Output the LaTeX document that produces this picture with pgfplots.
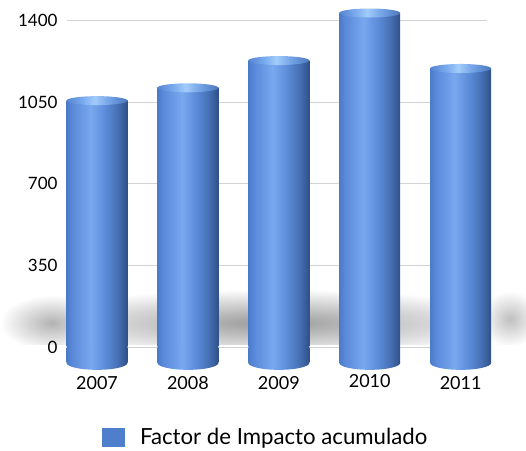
\documentclass[border=0pt]{standalone}
\usepackage{pgfplots}
\pgfplotsset{compat=1.18}
\usepackage{pgfplotstable}
\usepackage{fontspec}
\setmainfont{Lato}

\definecolor{legblue}{HTML}{4F7FCC}
\definecolor{gridgray}{HTML}{D2D2D2}
% cylinder body colours, left to right
\definecolor{cA}{HTML}{4B7BC8}
\definecolor{cB}{HTML}{5A8ADA}
\definecolor{cC}{HTML}{79A8EF}
\definecolor{cD}{HTML}{5B8BD8}
\definecolor{cE}{HTML}{4670B4}
\definecolor{cF}{HTML}{2F5088}
% lighter colours for the top faces
\definecolor{tA}{HTML}{5585D2}
\definecolor{tB}{HTML}{7AAAEE}
\definecolor{tC}{HTML}{A2CCFA}
\definecolor{tD}{HTML}{73A2E6}
\definecolor{tE}{HTML}{4C78BE}

\pgfdeclarehorizontalshading{cylbody}{100bp}{color(0bp)=(cA); color(25bp)=(cA);
  color(30bp)=(cB); color(45bp)=(cC); color(57bp)=(cD); color(67bp)=(cE);
  color(75bp)=(cF); color(100bp)=(cF)}
\pgfdeclarehorizontalshading{cyltop}{100bp}{color(0bp)=(tA); color(25bp)=(tA);
  color(38bp)=(tB); color(48bp)=(tC); color(60bp)=(tD); color(75bp)=(tE); color(100bp)=(tE)}

% elliptic end faces of the cylinders
\pgfdeclareplotmark{topcap}{%
  \pgfpathellipse{\pgfpointorigin}{\pgfqpoint{30.5bp}{0bp}}{\pgfqpoint{0bp}{4.5bp}}%
  \pgfshadepath{cyltop}{0}\pgfusepath{}}
\pgfdeclareplotmark{basecap}{%
  \pgfpathellipse{\pgfpointorigin}{\pgfqpoint{30.5bp}{0bp}}{\pgfqpoint{0bp}{7bp}}%
  \pgfshadepath{cylbody}{0}\pgfusepath{}}

\pgfplotstableread{
x year v
0 2007 1057
1 2008 1112
2 2009 1229
3 2010 1433
4 2011 1195
}\impacto

\begin{document}
\begin{tikzpicture}
\path[use as bounding box] (0,0) rectangle (526bp,451bp);
% soft shadow on the back wall
\begin{scope}
  \clip (0,106bp) rectangle (526bp,200bp);
  \shade[inner color=black!40, outer color=white] (272bp,128bp) ellipse [x radius=262bp, y radius=34bp];
  \shade[inner color=black!30, outer color=white] (52bp,128bp) ellipse [x radius=52bp, y radius=28bp];
  \shade[inner color=black!25, outer color=white] (510bp,132bp) ellipse [x radius=30bp, y radius=28bp];
\end{scope}
\begin{axis}[
  at={(67bp,104bp)}, anchor=south west, scale only axis,
  width=420bp, height=326.3bp,
  xmin=-0.33, xmax=4.29, ymin=0, ymax=1400,
  clip=false,
  axis x line*=bottom, axis y line*=left,
  axis line style={draw=none},
  major tick length=0pt,
  ytick={0,350,700,1050,1400},
  yticklabels={0,350,700,1050,1400},
  ymajorgrids, grid style={gridgray, line width=1bp},
  xtick={0,1,2,3,4},
  xticklabels={\raisebox{-2bp}{2007},\raisebox{-4bp}{2008},\raisebox{1bp}{2009},
    \raisebox{3.5bp}{2010},\raisebox{0.5bp}{2011}},
  yticklabel style={font=\fontsize{17bp}{20bp}\selectfont, anchor=east, xshift=-6bp},
  xticklabel style={font=\fontsize{18bp}{21bp}\selectfont, anchor=center, yshift=-36bp},
  legend style={at={(0.4726,-0.276)}, anchor=center, draw=none, fill=none,
    font=\fontsize{22.2bp}{25bp}\selectfont},
]
\addlegendimage{legend image code/.code={\fill[legblue] (0bp,-9bp) rectangle (22bp,9bp);
  \path (36bp,0bp);}}
\addlegendentry{Factor de Impacto acumulado}
% one cylinder per year, so that each gets its own shading
\pgfplotsinvokeforeach{0,1,2,3,4}{
  % part below the floor line
  \addplot[ybar, bar width=61bp, bar shift=0pt, draw=none, shading=cylbody, forget plot]
    coordinates {(#1,-68)};
  \addplot[only marks, mark=basecap, forget plot] coordinates {(#1,-68)};
  % body above the floor line
  \addplot[ybar, bar width=61bp, bar shift=0pt, draw=none, shading=cylbody, forget plot,
    x filter/.expression={x==#1 ? x : nan}]
    table[x=x, y=v] {\impacto};
  \addplot[only marks, mark=topcap, forget plot,
    x filter/.expression={x==#1 ? x : nan}]
    table[x=x, y=v] {\impacto};
}
\end{axis}
\end{tikzpicture}
\end{document}
